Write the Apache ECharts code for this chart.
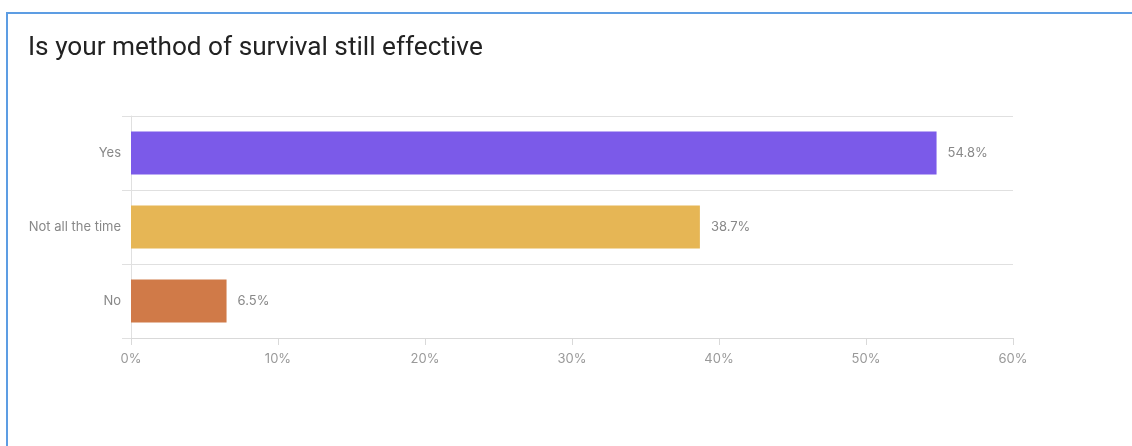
<!DOCTYPE html>
<html>
<head>
<meta charset="utf-8">
<title>Is your method of survival still effective</title>
<script src="https://cdn.jsdelivr.net/npm/echarts@6/dist/echarts.min.js"></script>
<style>
  html, body { margin: 0; padding: 0; background: #fff; }
  #frame {
    position: absolute;
    left: 6px;
    top: 12px;
    right: -10px;
    bottom: -10px;
    border-top: 2px solid #5d9de3;
    border-left: 2px solid #5d9de3;
  }
  #chart { position: absolute; left: 0; top: 0; width: 1132px; height: 446px; }
</style>
</head>
<body>
<div id="frame"></div>
<div id="chart"></div>
<script>
const categories = ['Yes', 'Not all the time', 'No'];
const percents = [54.8, 38.7, 6.5];
const barColors = ['#7b5ae9', '#e6b655', '#d07a48'];
const tickValues = [0, 10, 20, 30, 40, 50, 60];

const chart = echarts.init(document.getElementById('chart'));

const option = {
  backgroundColor: 'transparent',
  animation: false,
  title: {
    text: 'Is your method of survival still effective',
    left: 23,
    top: 30,
    textStyle: {
      fontFamily: 'Roboto',
      fontSize: 26.2,
      fontWeight: 400,
      color: '#222'
    }
  },
  grid: {
    left: 131,
    right: 119,
    top: 116,
    bottom: 108
  },
  xAxis: {
    type: 'value',
    min: tickValues[0],
    max: tickValues[tickValues.length - 1],
    interval: 10,
    axisLine: { show: true, lineStyle: { color: '#d9d9d9' } },
    axisTick: { show: true, length: 7, lineStyle: { color: '#d9d9d9' } },
    splitLine: { show: false },
    axisLabel: {
      formatter: '{value}%',
      color: '#999',
      fontSize: 13,
      fontFamily: 'Inter',
      margin: 15
    }
  },
  yAxis: {
    type: 'category',
    data: categories,
    inverse: true,
    axisLine: { show: true, lineStyle: { color: '#e0e0e0' } },
    axisTick: { show: true, length: 9, lineStyle: { color: '#e0e0e0' } },
    splitLine: { show: true, lineStyle: { color: '#e0e0e0' } },
    axisLabel: {
      color: '#888',
      fontSize: 13,
      fontFamily: 'Inter',
      margin: 10
    }
  },
  series: [
    {
      type: 'bar',
      data: percents.map((v, i) => ({ value: v, itemStyle: { color: barColors[i] } })),
      barWidth: 43,
      label: {
        show: true,
        position: 'right',
        distance: 11,
        formatter: '{c}%',
        color: '#888',
        fontSize: 13,
        fontFamily: 'Inter'
      }
    }
  ]
};

chart.setOption(option);
</script>
</body>
</html>
